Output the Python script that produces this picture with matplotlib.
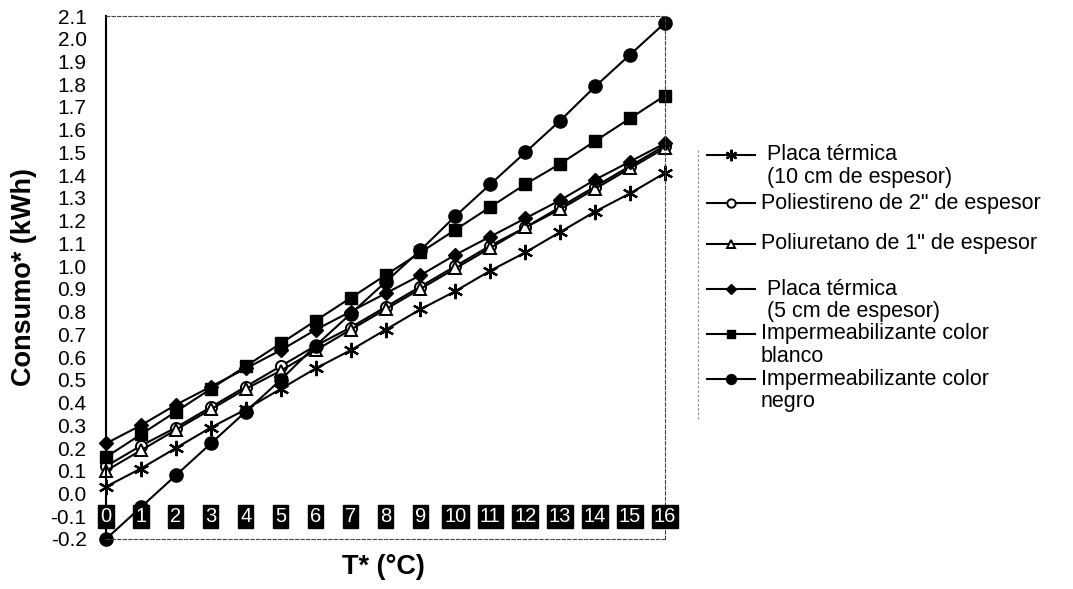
import numpy as np
import matplotlib
matplotlib.use("Agg")
import matplotlib.pyplot as plt
from matplotlib.lines import Line2D

plt.rcParams['font.family'] = ['Liberation Sans', 'DejaVu Sans']
plt.rcParams['axes.unicode_minus'] = False

# data
temps = list(range(0, 17))
placa10 = [0.03, 0.11, 0.20, 0.29, 0.37, 0.46, 0.55, 0.63, 0.72, 0.81, 0.89, 0.98, 1.06, 1.15, 1.24, 1.32, 1.41]
poliestireno = [0.12, 0.21, 0.29, 0.38, 0.47, 0.56, 0.65, 0.73, 0.82, 0.91, 1.00, 1.09, 1.17, 1.26, 1.35, 1.44, 1.53]
poliuretano = [0.10, 0.19, 0.28, 0.37, 0.46, 0.54, 0.63, 0.72, 0.81, 0.90, 0.99, 1.08, 1.17, 1.25, 1.34, 1.43, 1.52]
placa5 = [0.22, 0.30, 0.39, 0.47, 0.55, 0.63, 0.72, 0.80, 0.88, 0.96, 1.05, 1.13, 1.21, 1.29, 1.38, 1.46, 1.54]
blanco = [0.16, 0.26, 0.36, 0.46, 0.56, 0.66, 0.76, 0.86, 0.96, 1.06, 1.16, 1.26, 1.36, 1.45, 1.55, 1.65, 1.75]
negro = [-0.20, -0.06, 0.08, 0.22, 0.36, 0.50, 0.65, 0.79, 0.93, 1.07, 1.22, 1.36, 1.50, 1.64, 1.79, 1.93, 2.07]

labels = [' Placa térmica\n (10 cm de espesor)', 'Poliestireno de 2" de espesor',
          'Poliuretano de 1" de espesor', ' Placa térmica\n (5 cm de espesor)',
          'Impermeabilizante color\nblanco', 'Impermeabilizante color\nnegro']
yticks = np.round(np.arange(-0.2, 2.11, 0.1), 1)

lineStyle = {'color': 'black', 'linewidth': 1.5, 'clip_on': False}
styles = [
    {'marker': (6, 2, 0), 'ms': 11, 'mew': 1.6, 'mfc': 'black', 'mec': 'black'},
    {'marker': 'o', 'ms': 8, 'mew': 1.4, 'mfc': 'white', 'mec': 'black'},
    {'marker': '^', 'ms': 8, 'mew': 1.4, 'mfc': 'white', 'mec': 'black'},
    {'marker': 'D', 'ms': 7, 'mew': 1, 'mfc': 'black', 'mec': 'black'},
    {'marker': 's', 'ms': 8.5, 'mew': 1, 'mfc': 'black', 'mec': 'black'},
    {'marker': 'o', 'ms': 9.5, 'mew': 1, 'mfc': 'black', 'mec': 'black'},
]
series = [placa10, poliestireno, poliuretano, placa5, blanco, negro]

W, H = 1073, 589
fig = plt.figure(figsize=(W/100, H/100), dpi=100)
ax = fig.add_axes([106/W, 1 - 539/H, (665-106)/W, (539-16)/H])

for vals, st in zip(series, styles):
    ax.plot(temps, vals, **lineStyle, **st)

ax.set_xlim(0, 16)
ax.set_ylim(-0.2, 2.1)
ax.set_yticks(yticks)
ax.set_yticklabels(['%.1f' % v for v in yticks], fontsize=15)
ax.tick_params(axis='y', length=0, pad=14)
ax.set_xticks([])

for s in ['top', 'right', 'bottom']:
    ax.spines[s].set_linestyle((0, (3, 2)))
    ax.spines[s].set_linewidth(0.8)
    ax.spines[s].set_color('#444444')
ax.spines['left'].set_linewidth(1.5)

# x tick labels: white digits on black boxes, sitting at -0.1
for t in temps:
    ax.text(t, -0.1, str(t), ha='center', va='center', color='white', fontsize=14.5,
            bbox=dict(boxstyle='square,pad=0.1', fc='black', ec='black'), zorder=5, clip_on=False)

ax.set_ylabel('Consumo* (kWh)', fontsize=19.5, fontweight='bold', labelpad=10)
fig.text(383/W, 1 - 567/H, 'T* (°C)', fontsize=19.5, fontweight='bold', ha='center', va='center')

# legend drawn by hand so the marker sits on the first text line
legY = [155, 203, 244, 289, 334, 379]
lineGap = 22
for y, st, lab in zip(legY, styles, labels):
    yf = 1 - y/H
    fig.add_artist(Line2D([707/W, 755/W], [yf, yf], color='black', linewidth=1.5))
    ms = dict(st)
    ms['ms'] = st['ms'] * 0.75
    fig.add_artist(Line2D([731/W], [yf], linestyle='none', **ms))
    for k, part in enumerate(lab.split('\n')):
        fig.text(761/W, 1 - (y + k*lineGap)/H, part, fontsize=15.5, ha='left', va='center')
fig.add_artist(Line2D([698/W, 698/W], [1 - 150/H, 1 - 420/H], color='#888888',
                      linewidth=0.8, linestyle=(0, (2, 2))))

fig.savefig('out.png', dpi=100)
